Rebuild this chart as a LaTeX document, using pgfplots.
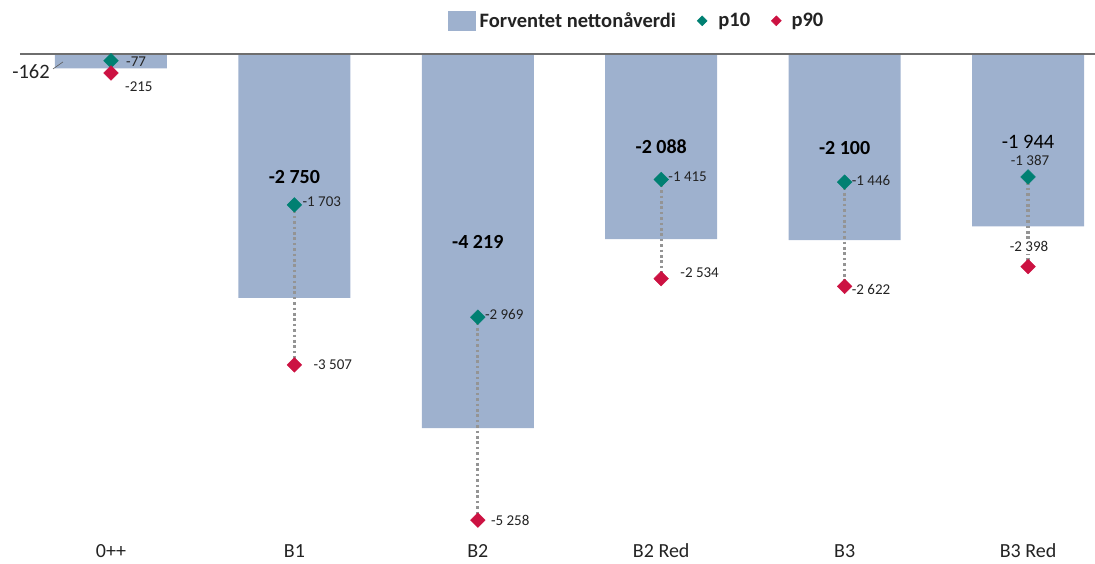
\documentclass[border=0pt]{standalone}
\usepackage{pgfplots}
\pgfplotsset{compat=1.18}
\usepackage{fontspec}
\setmainfont{Carlito}
\definecolor{barblue}{RGB}{158,177,206}
\definecolor{pteal}{RGB}{0,128,114}
\definecolor{pred}{RGB}{204,18,66}
\definecolor{dotgray}{RGB}{148,148,148}
\definecolor{txt}{RGB}{35,35,35}
\tikzset{
  lbl/.style={font=\fontsize{15}{17}\selectfont, text=txt, inner sep=0pt},
  barlbl/.style={font=\bfseries\fontsize{20}{23}\selectfont, text=black, inner sep=0pt},
}
\begin{document}
\begin{tikzpicture}
\begin{axis}[
  scale only axis, width=1095pt, height=563pt,
  xmin=-0.605, xmax=5.365, ymin=-5742, ymax=609,
  axis line style={draw=none},
  ytick=\empty, major tick length=0pt,
  xtick={0,1,2,3,4,5},
  xticklabels={0++,B1,B2,B2 Red,B3,B3 Red},
  xticklabel style={font=\fontsize{20}{23}\selectfont, anchor=center, yshift=12pt, text=txt},
  clip=false,
  legend columns=3,
  legend style={draw=none, fill=none, at={(axis description cs:0.5813,0.963)}, anchor=center,
    font=\bfseries\fontsize{20.5}{23}\selectfont, text=txt,
    /tikz/every even column/.append style={column sep=19pt}},
]
\addplot[ybar, bar width=112pt, fill=barblue, draw=none,
  legend image code/.code={\fill[barblue] (0pt,-10pt) rectangle (28pt,10pt); \path (30pt,0pt);}]
  coordinates {(0,-162) (1,-2750) (2,-4219) (3,-2088) (4,-2100) (5,-1944)};
\addlegendentry{Forventet nettonåverdi}
\addplot[only marks, mark=square*, mark size=5.2pt, color=pteal, mark options={rotate=45, fill=pteal, draw=pteal},
  legend image code/.code={\fill[pteal] (5pt,5pt) -- (10pt,0pt) -- (5pt,-5pt) -- (0pt,0pt) -- cycle; \path (19pt,0pt);}]
  coordinates {(0,-77) (1,-1703) (2,-2969) (3,-1415) (4,-1446) (5,-1387)};
\addlegendentry{p10}
\addplot[only marks, mark=square*, mark size=5.2pt, color=pred, mark options={rotate=45, fill=pred, draw=pred},
  legend image code/.code={\fill[pred] (5pt,5pt) -- (10pt,0pt) -- (5pt,-5pt) -- (0pt,0pt) -- cycle; \path (18pt,0pt);}]
  coordinates {(0,-215) (1,-3507) (2,-5258) (3,-2534) (4,-2622) (5,-2398)};
\addlegendentry{p90}
% dotted connectors
\addplot[forget plot, dotgray, line width=3.3pt, dash pattern=on 2.6pt off 2.8pt] coordinates {(1,-1703) (1,-3507)};
\addplot[forget plot, dotgray, line width=3.3pt, dash pattern=on 2.6pt off 2.8pt] coordinates {(2,-2969) (2,-5258)};
\addplot[forget plot, dotgray, line width=3.3pt, dash pattern=on 2.6pt off 2.8pt] coordinates {(3,-1415) (3,-2534)};
\addplot[forget plot, dotgray, line width=3.3pt, dash pattern=on 2.6pt off 2.8pt] coordinates {(4,-1446) (4,-2622)};
\addplot[forget plot, dotgray, line width=3.3pt, dash pattern=on 2.6pt off 2.8pt] coordinates {(5,-1387) (5,-2398)};
% zero line
\draw[color={rgb,255:red,110;green,110;blue,110}, line width=1.1pt] (axis cs:-0.496,0) -- (axis cs:5.365,0);
% bar value labels
\draw[color={rgb,255:red,90;green,90;blue,90}, line width=0.6pt] (axis cs:-0.316,-169) -- (axis cs:-0.262,-90);
\node[font=\fontsize{20.5}{23}\selectfont, text=txt, inner sep=0pt] at (axis cs:-0.436,-203) {-162};
\node[barlbl] at (axis cs:1,-1387) {-2 750};
\node[barlbl] at (axis cs:2,-2121) {-4 219};
\node[barlbl] at (axis cs:3,-1049) {-2 088};
\node[barlbl] at (axis cs:4,-1060) {-2 100};
\node[font=\fontsize{20.5}{23}\selectfont, text=black, inner sep=0pt] at (axis cs:5,-993) {-1 944};
% p10 labels
\node[lbl, anchor=west, xshift=15pt, yshift=-1pt] at (axis cs:0,-77) {-77};
\node[lbl, anchor=west, xshift=8pt, yshift=3pt] at (axis cs:1,-1703) {-1 703};
\node[lbl, anchor=west, xshift=7pt, yshift=3pt] at (axis cs:2,-2969) {-2 969};
\node[lbl, anchor=west, xshift=7pt, yshift=3pt] at (axis cs:3,-1415) {-1 415};
\node[lbl, anchor=west, xshift=7pt, yshift=2pt] at (axis cs:4,-1446) {-1 446};
\node[lbl, anchor=center, xshift=2pt, yshift=17pt] at (axis cs:5,-1387) {-1 387};
% p90 labels
\node[lbl, anchor=west, xshift=14pt, yshift=-14pt] at (axis cs:0,-215) {-215};
\node[lbl, anchor=west, xshift=19pt, yshift=0pt] at (axis cs:1,-3507) {-3 507};
\node[lbl, anchor=west, xshift=13pt, yshift=0pt] at (axis cs:2,-5258) {-5 258};
\node[lbl, anchor=west, xshift=19pt, yshift=6pt] at (axis cs:3,-2534) {-2 534};
\node[lbl, anchor=west, xshift=7pt, yshift=-3pt] at (axis cs:4,-2622) {-2 622};
\node[lbl, anchor=center, xshift=1pt, yshift=20pt, fill=white, inner sep=2pt] at (axis cs:5,-2398) {-2 398};
\end{axis}
\pgfresetboundingbox
\path[use as bounding box] (current axis.south west) rectangle (current axis.north east);
\end{tikzpicture}
\end{document}
